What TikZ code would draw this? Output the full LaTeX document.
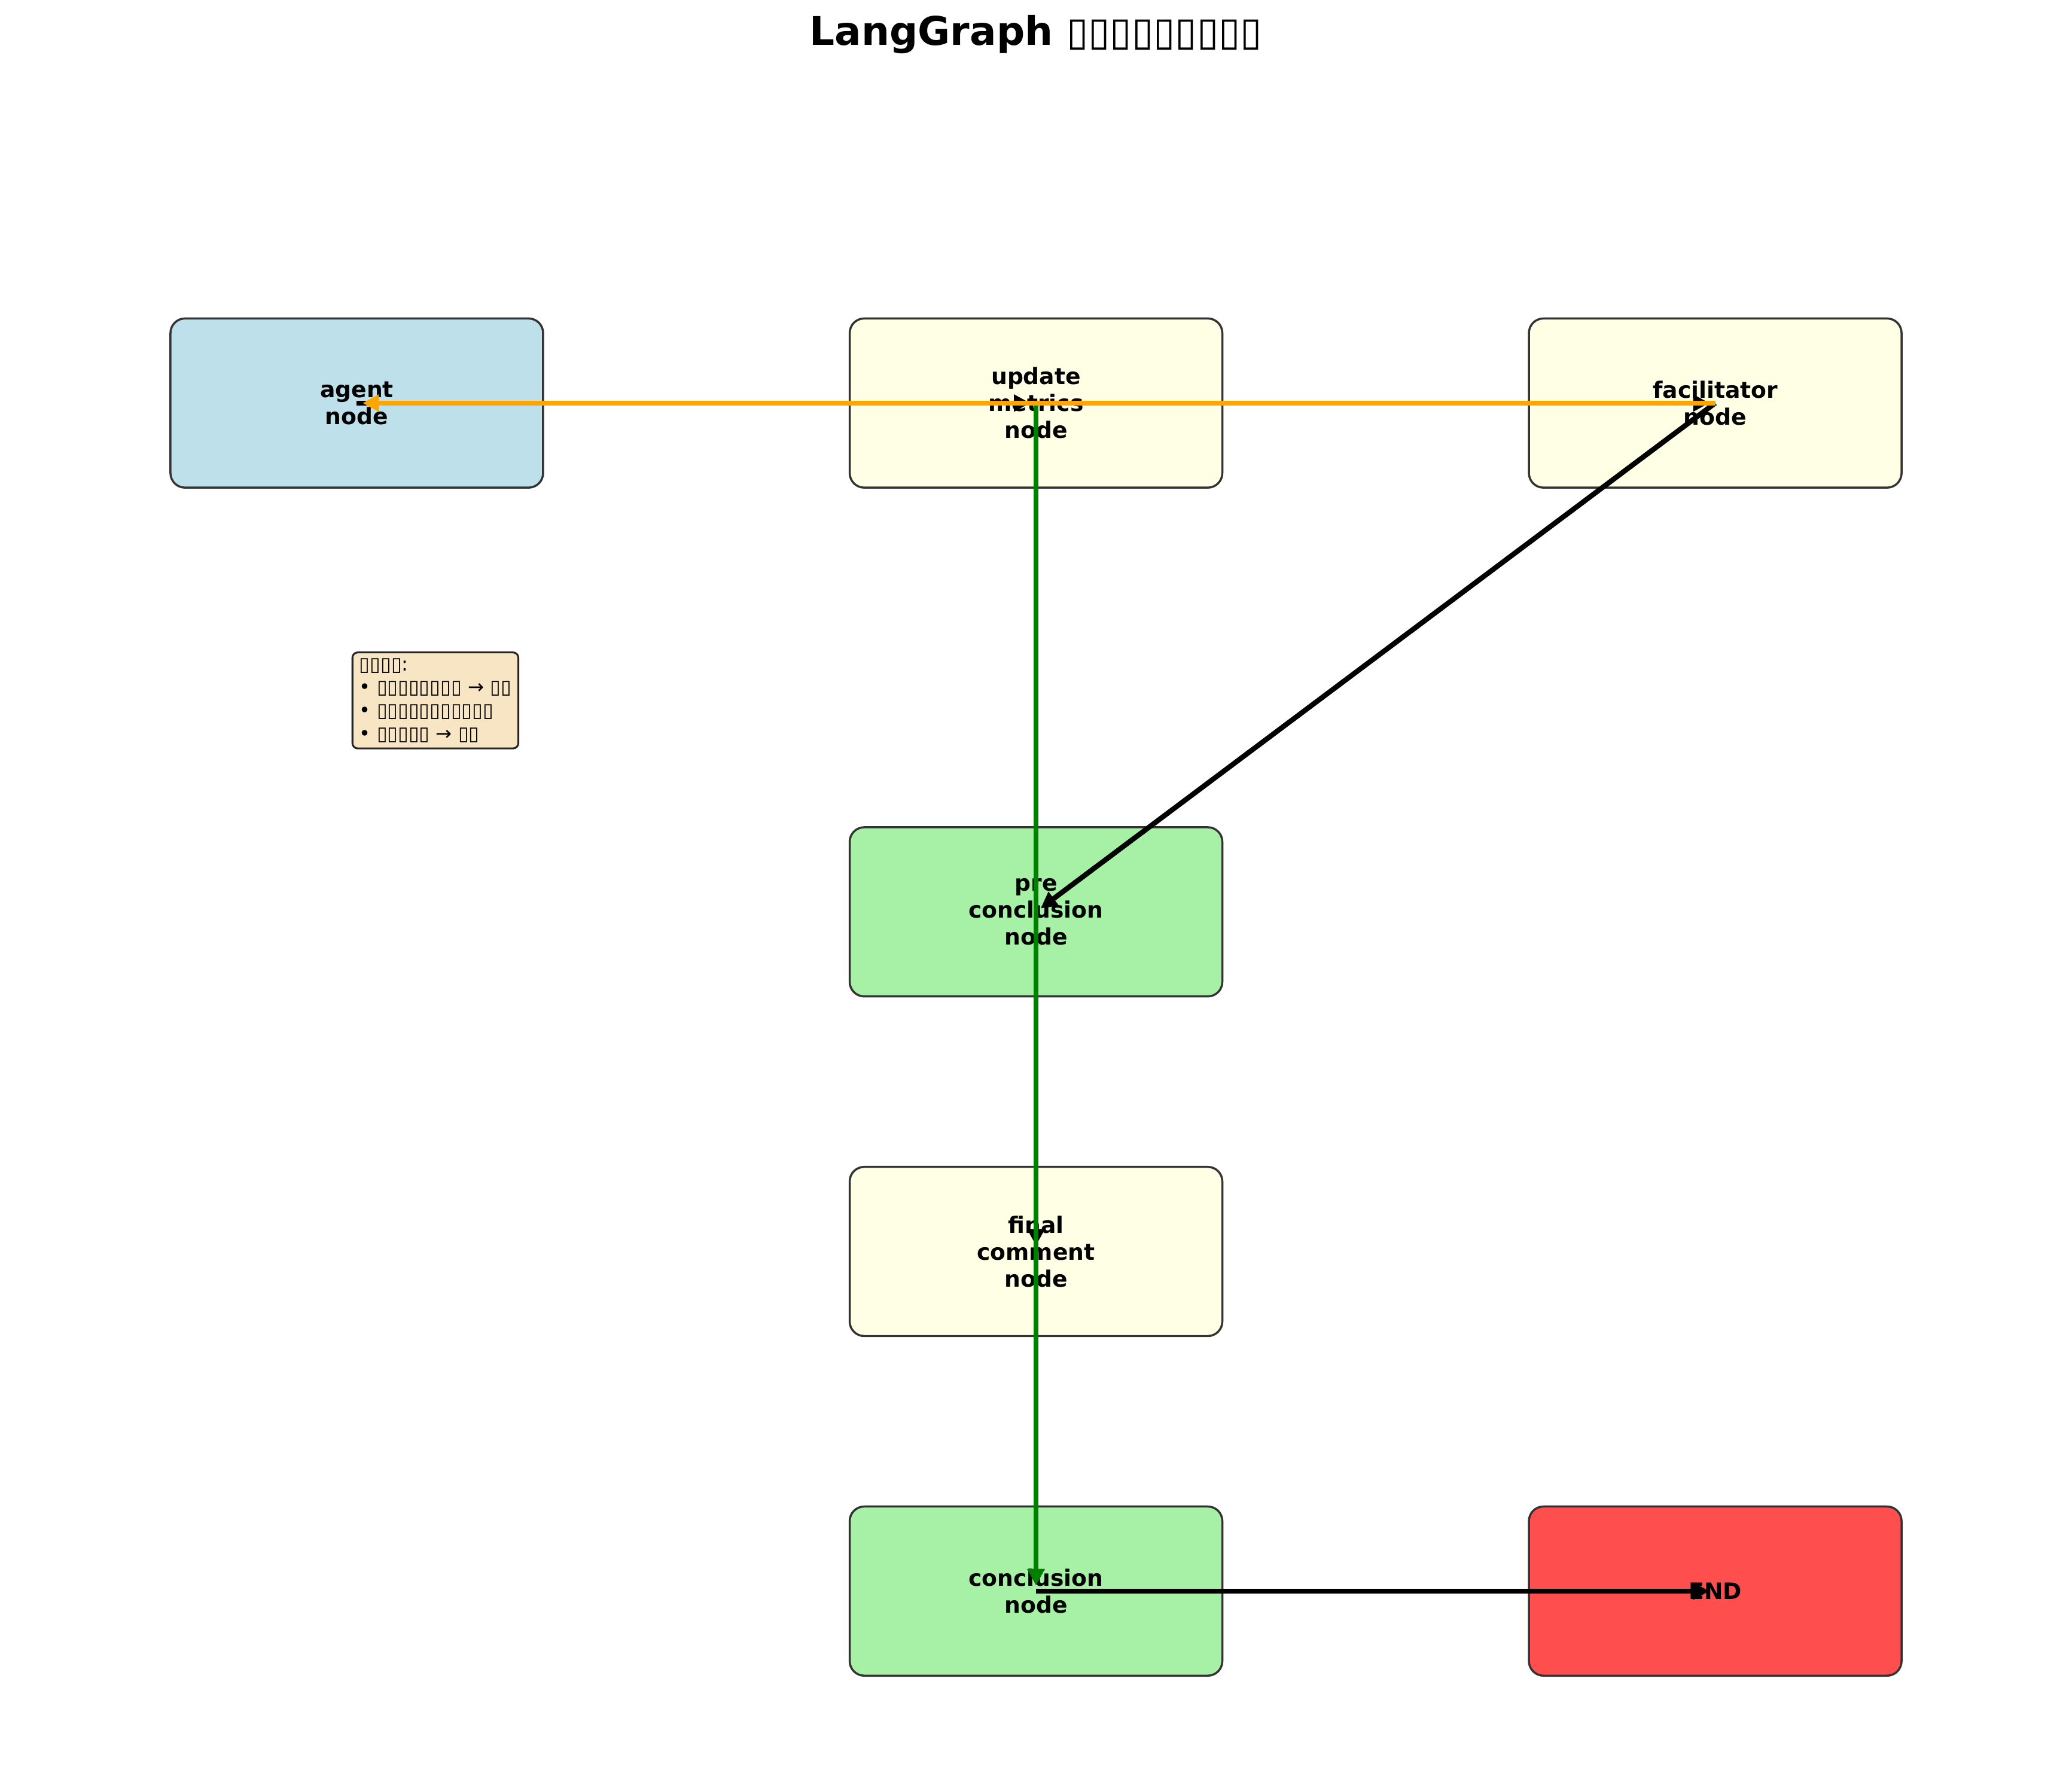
\documentclass[tikz,border=0pt]{standalone}
\usepackage{fontspec}
\setmainfont{DejaVu Sans}
\usetikzlibrary{arrows.meta}
\definecolor{agentblue}{RGB}{190,224,235}
\definecolor{stepyellow}{RGB}{255,255,230}
\definecolor{stepgreen}{RGB}{166,241,166}
\definecolor{endred}{RGB}{255,78,78}
\definecolor{notewheat}{RGB}{248,229,196}
\definecolor{flowgreen}{RGB}{0,128,0}
\definecolor{flowamber}{RGB}{255,165,0}

\begin{document}
\begin{tikzpicture}[graphnode/.style={draw=black!80, line width=0.9pt, rounded corners=0.22cm, minimum width=5.64cm, minimum height=2.56cm, align=center, font=\fontsize{9.7}{11.6}\selectfont\bfseries}, flow/.style={-{Triangle[length=7pt,width=7pt]}, line width=2.2pt, shorten >=2.5pt}, note/.style={draw=black!85, line width=0.8pt, rounded corners=0.08cm, fill=notewheat, align=left, inner xsep=3pt, inner ysep=2.5pt, font=\fontsize{8.3}{10}\selectfont}]
\useasboundingbox (0,0) rectangle (31.36,26.92);
\node[font=\fontsize{17}{20}\selectfont\bfseries] (title) at (15.68,26.40) {LangGraph ▯▯▯▯▯▯▯▯▯};
% top row
\node[graphnode, fill=agentblue] (agent) at (5.40,20.82) {agent\\node};
\node[graphnode, fill=stepyellow] (update) at (15.68,20.82) {update\\metrics\\node};
\node[graphnode, fill=stepyellow] (facil) at (25.96,20.82) {facilitator\\node};
% middle column
\node[graphnode, fill=stepgreen] (precon) at (15.68,13.12) {pre\\conclusion\\node};
\node[graphnode, fill=stepyellow] (final) at (15.68,7.98) {final\\comment\\node};
\node[graphnode, fill=stepgreen] (concl) at (15.68,2.84) {conclusion\\node};
\node[graphnode, fill=endred] (end) at (25.96,2.84) {END};
\node[note, anchor=north west] (legend) at (5.32,17.06) {▯▯▯▯:\\• ▯▯▯▯▯▯▯▯ → ▯▯\\• ▯▯▯▯▯▯▯▯▯▯▯\\• ▯▯▯▯▯ → ▯▯};
% edges
\draw[flow] (agent.center) -- (update.center);
\draw[flow] (update.center) -- (facil.center);
\draw[flow] (facil.center) -- (precon.center);
\draw[flow] (precon.center) -- (final.center);
\draw[flow] (final.center) -- (concl.center);
\draw[flow] (concl.center) -- (end.center);
\draw[flow, flowgreen] (update.center) -- (concl.center);
\draw[flow, flowamber] (facil.center) -- (agent.center);
\end{tikzpicture}
\end{document}
